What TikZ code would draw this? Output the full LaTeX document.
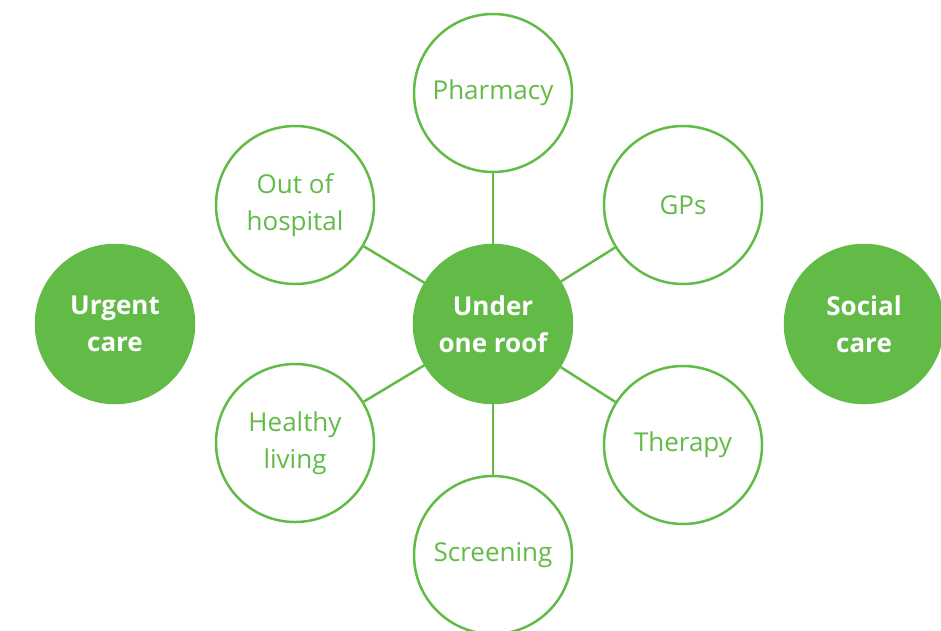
\documentclass[tikz,border=0pt]{standalone}
\usepackage{fontspec}
\setmainfont{Open Sans}
\usepackage{xcolor}
\definecolor{roofGreen}{HTML}{63BB47}
\usepackage{tikz}
\usetikzlibrary{positioning}
\tikzset{
    hub/.style={
        circle,
        draw=roofGreen,
        fill=roofGreen,
        line width=2.5pt,
        minimum size=158pt,
        inner sep=0pt,
        align=center,
        text=white,
        font=\fontsize{26}{37}\selectfont\bfseries
    },
    service/.style={
        circle,
        draw=roofGreen,
        fill=white,
        line width=2.5pt,
        minimum size=158pt,
        inner sep=0pt,
        align=center,
        text=roofGreen,
        font=\fontsize{26}{37}\selectfont
    },
    spoke/.style={
        line width=2.5pt,
        draw=roofGreen
    }
}

\begin{document}
\begin{tikzpicture}[x=1pt,y=-1pt]
    \useasboundingbox (0,0) rectangle (941,630);

    % Centre
    \node[hub] (roof) at (493,324) {Under\\one roof};

    % Services round the centre
    \node[service] (pharmacy) at (493,93) {Pharmacy};
    \node[service] (gps) at (683,205) {GPs};
    \node[service] (therapy) at (683,445) {Therapy};
    \node[service] (screening) at (493,555) {Screening};
    \node[service] (healthy) at (295,443) {Healthy\\living};
    \node[service] (outhosp) at (295,205) {Out of\\hospital};

    % Side circles
    \node[hub] (urgent) at (115,324) {Urgent\\care};
    \node[hub] (social) at (864,324) {Social\\care};

    % Spokes
    \foreach \s in {pharmacy,gps,therapy,screening,healthy,outhosp}
        \draw[spoke] (roof) -- (\s);
\end{tikzpicture}
\end{document}
